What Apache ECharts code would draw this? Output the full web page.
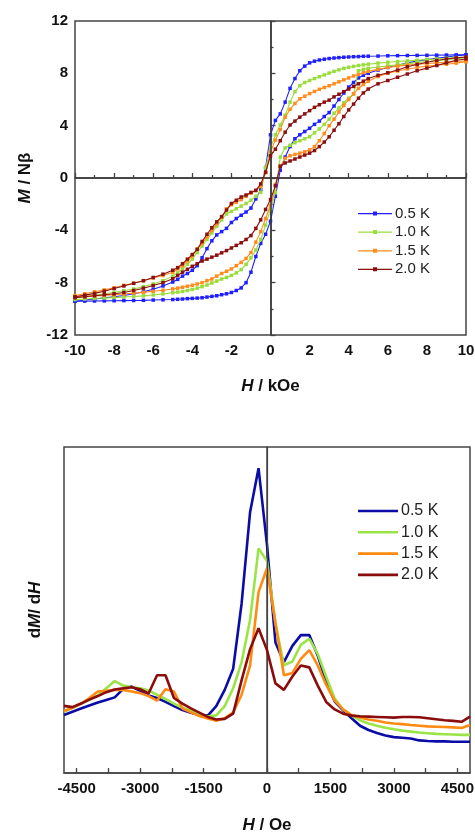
<!DOCTYPE html>
<html><head><meta charset="utf-8">
<script src="https://cdn.jsdelivr.net/npm/echarts@6/dist/echarts.min.js"></script>
<style>html,body{margin:0;padding:0;background:#fff;}#c1{position:absolute;left:0;top:0;width:475px;height:420px;}#c2{position:absolute;left:0;top:420px;width:475px;height:414px;}</style>
</head><body><div id="c1"></div><div id="c2"></div>
<script>
// ---- Top chart: M vs H (kOe), descending and ascending branches ----
const H = [10,9.5,9,8.5,8,7.5,7,6.5,6,5.5,5,4.75,4.5,4.25,4,3.75,3.5,3.25,3,2.75,2.5,2.25,2,1.75,1.5,1.25,1,0.75,0.5,0.25,0,-0.25,-0.5,-0.75,-1,-1.25,-1.5,-1.75,-2,-2.25,-2.5,-2.75,-3,-3.25,-3.5,-3.75,-4,-4.25,-4.5,-4.75,-5,-5.5,-6,-6.5,-7,-7.5,-8,-8.5,-9,-9.5,-10];
const blueDown = [9.42,9.41,9.40,9.39,9.38,9.37,9.36,9.35,9.34,9.32,9.31, 9.30,9.28,9.27,9.25,9.23,9.2,9.17,9.13,9.08,9.02,8.93,8.8,8.55,8.2,7.6,6.85,5.8,4.9,4.4,3.3, 0.8,-0.9,-1.6,-2.3,-2.6,-2.85,-3.1,-3.4,-3.85,-4.1,-4.35,-4.8,-5.4,-6.1,-6.7,-7.05,-7.3,-7.5,-7.75, -7.95,-8.25,-8.5,-8.7,-8.85,-8.98,-9.08,-9.16,-9.25,-9.33,-9.42];
const blueUp = [9.41,9.35,9.25,9.15,9.05,8.93,8.8,8.62,8.45,8.25,8.0, 7.85,7.65,7.3,6.95,6.5,6.0,5.5,5.0,4.7,4.35,4.1,3.8,3.55,3.3,3.0,2.4,1.6,0.6,-1.4,-3.3, -4.3,-5.0,-6.0,-7.2,-8.0,-8.4,-8.6,-8.75,-8.85,-8.92,-9.0,-9.05,-9.1,-9.15,-9.18,-9.2,-9.22,-9.25,-9.27, -9.29,-9.31,-9.33,-9.35,-9.36,-9.37,-9.38,-9.39,-9.4,-9.41,-9.42];
const greenDown = [9.22,9.2,9.15,9.1,9.05,9.0,8.95,8.9,8.85,8.78,8.7, 8.65,8.6,8.53,8.46,8.38,8.27,8.15,8.02,7.88,7.74,7.6,7.45,7.3,7.05,6.6,5.8,4.8,4.05,3.3,2.3, 0.8,-1.1,-1.4,-1.7,-1.95,-2.15,-2.35,-2.55,-2.75,-3.2,-3.7,-4.2,-4.7,-5.2,-5.7,-6.2,-6.6,-6.95,-7.25, -7.5,-7.85,-8.1,-8.3,-8.48,-8.62,-8.75,-8.85,-8.97,-9.07,-9.17];
const greenUp = [9.2,9.12,9.05,8.98,8.9,8.82,8.74,8.65,8.57,8.48,8.38, 8.3,8.2,6.4,6.1,5.75,5.35,4.95,4.5,4.1,3.75,3.45,3.15,3.0,2.85,2.7,2.5,2.3,1.6,-1.1,-2.4, -3.6,-4.7,-5.5,-6.1,-6.6,-7.0,-7.25,-7.45,-7.6,-7.72,-7.88,-8.02,-8.18,-8.3,-8.42,-8.52,-8.6,-8.67,-8.72, -8.77,-8.86,-8.94,-9.01,-9.06,-9.1,-9.14,-9.17,-9.21,-9.25,-9.29];
const orangeDown = [8.95,8.9,8.85,8.8,8.75,8.7,8.63,8.55,8.45,8.3,8.15, 8.05,7.92,7.8,7.65,7.5,7.35,7.2,7.05,6.92,6.78,6.62,6.45,6.25,6.05,5.7,5.25,4.65,3.7,2.9,2.0, 0.4,-0.65,-0.95,-1.15,-1.4,-1.65,-1.85,-2.05,-2.35,-3.0,-3.5,-4.0,-4.5,-5.0,-5.45,-5.95,-6.35,-6.7,-6.95, -7.2,-7.45,-7.65,-7.85,-8.05,-8.2,-8.4,-8.55,-8.7,-8.85,-8.98];
const orangeUp = [8.88,8.78,8.7,8.62,8.55,8.45,8.33,8.18,8.0,7.75,7.4, 7.15,6.85,6.45,6.0,5.55,5.05,4.5,4.0,3.4,2.85,2.4,2.15,2.0,1.9,1.8,1.7,1.5,0.9,-0.5,-2.1, -3.1,-4.1,-4.9,-5.7,-6.15,-6.45,-6.7,-6.95,-7.13,-7.3,-7.5,-7.72,-7.85,-8.0,-8.1,-8.2,-8.27,-8.35,-8.42, -8.48,-8.58,-8.66,-8.74,-8.8,-8.87,-8.92,-8.97,-9.01,-9.05,-9.08];
const redDown = [9.25,9.18,9.1,8.98,8.85,8.68,8.5,8.25,8.05,7.85,7.6, 7.4,7.2,7.0,6.8,6.6,6.4,6.2,5.95,5.8,5.6,5.4,5.15,4.9,4.65,4.35,4.05,3.5,2.85,2.2,1.7, 0.45,-0.45,-0.95,-1.1,-1.3,-1.45,-1.7,-1.95,-2.45,-2.95,-3.35,-3.8,-4.3,-4.85,-5.45,-5.85,-6.2,-6.55,-6.85, -7.05,-7.35,-7.6,-7.85,-8.05,-8.25,-8.45,-8.65,-8.82,-8.95,-9.08];
const redUp = [9.1,9.0,8.8,8.6,8.4,8.2,7.95,7.7,7.45,7.2,6.8, 6.5,6.1,5.65,5.2,4.7,4.15,3.65,3.15,2.75,2.4,2.1,1.9,1.75,1.6,1.45,1.3,1.15,0.9,-0.6,-1.65, -2.4,-3.2,-3.85,-4.4,-4.7,-4.95,-5.15,-5.35,-5.55,-5.72,-5.9,-6.05,-6.2,-6.35,-6.55,-6.75,-6.98,-7.2,-7.45, -7.7,-8.0,-8.22,-8.42,-8.6,-8.75,-8.85,-8.92,-9.0,-9.08,-9.15];

// ---- Bottom chart: dM/dH vs H (Oe), arbitrary units ----
const H2 = [-4800,-4600,-4400,-4200,-4000,-3800,-3600,-3400,-3200,-3000,-2800,-2600,-2400,-2200,-2000,-1800,-1600,-1400,-1200,-1000,-800,-600,-400,-200,0,200,400,600,800,1000,1200,1400,1600,1800,2000,2200,2400,2600,2800,3000,3200,3400,3600,3800,4000,4200,4400,4600,4800];
const blue2 = [1.78,1.88,1.98,2.07,2.16,2.24,2.32,2.58,2.65,2.52, 2.38,2.3,2.18,2.05,1.93,1.85,1.79,1.76,2.05,2.55,3.2,5.2,8.0,9.35, 7.0, 4.0,3.4,3.9,4.23,4.23,3.6,2.8,2.2,1.92,1.68,1.45,1.32,1.23,1.15,1.1,1.08,1.06,1.0,0.98,0.97,0.97,0.96,0.96,0.96];
const green2 = [1.88,2.0,2.12,2.25,2.38,2.6,2.82,2.68,2.63,2.6, 2.53,2.4,2.27,2.13,2.0,1.9,1.8,1.73,1.77,2.05,2.6,3.4,4.7,6.89, 6.5, 4.6,3.3,3.42,3.93,4.12,3.65,2.95,2.28,1.95,1.76,1.62,1.52,1.45,1.39,1.34,1.3,1.27,1.24,1.22,1.2,1.19,1.18,1.17,1.17];
const orange2 = [1.9,2.0,2.12,2.3,2.5,2.52,2.55,2.55,2.5,2.45, 2.36,2.22,2.57,2.5,1.98,1.86,1.75,1.67,1.6,1.68,1.86,2.4,3.3,5.55, 6.28, 4.6,3.0,3.07,3.5,3.77,3.3,2.7,2.22,1.95,1.78,1.7,1.64,1.6,1.55,1.52,1.5,1.47,1.45,1.43,1.42,1.41,1.4,1.38,1.47];
const red2 = [2.06,2.02,2.13,2.25,2.36,2.48,2.56,2.6,2.63,2.57, 2.44,3.0,3.0,2.3,2.13,1.98,1.85,1.72,1.64,1.66,1.82,2.85,3.8,4.44, 3.77, 2.75,2.55,2.96,3.3,3.24,2.68,2.18,1.95,1.82,1.76,1.74,1.73,1.72,1.71,1.7,1.72,1.72,1.71,1.68,1.65,1.62,1.6,1.57,1.73];

const names = ['0.5 K','1.0 K','1.5 K','2.0 K'];
const botLabels = [-4500,-3000,-1500,0,1500,3000,4500];
const botTicks = [-4500,-3750,-3000,-2250,-1500,-750,0,750,1500,2250,3000,3750,4500];

const colorsTop = ['#1f1fff','#99dd3c','#ff8c1e','#8b1010'];
const colorsBot = ['#0b0ba6','#9be446','#ff8a12','#8a0c0c'];
const FONT = 'Liberation Sans, Arial, Helvetica, sans-serif';
const richName = {
  i: {fontStyle:'italic', fontWeight:'bold', fontSize:17, fontFamily:FONT, color:'#111'},
  b: {fontWeight:'bold', fontSize:17, fontFamily:FONT, color:'#111'}
};
function pair(xs, ys){ return xs.map((x,i)=>[x, ys[i]]); }

// ---------- Chart 1 ----------
const c1 = echarts.init(document.getElementById('c1'), null, {renderer:'canvas'});
const topSets = [[blueDown,blueUp],[greenDown,greenUp],[orangeDown,orangeUp],[redDown,redUp]];
const s1 = [];
topSets.forEach((pr, k) => {
  pr.forEach((arr, j) => {
    s1.push({
      type:'line', name:names[k], data:pair(H, arr),
      symbol:'rect', symbolSize:3.5, showSymbol:true,
      lineStyle:{color:colorsTop[k], width:1.1},
      itemStyle:{color:colorsTop[k]},
      z: 2 + k, silent:true
    });
  });
});
s1[0].markLine = {
  silent:true, symbol:['none','none'], animation:false,
  label:{show:false},
  lineStyle:{color:'#3a3a3a', width:1.5, type:'solid'},
  data:[{xAxis:0},{yAxis:0}]
};
const topLegendIcon = 'path://M0,1.5h34v1.2h-34z M15,0h4v4h-4z';
c1.setOption({
  animation:false,
  backgroundColor:'#fff',
  grid:{left:75, right:9, top:21, height:314, outerBoundsMode:'none', containLabel:false, show:true, borderColor:'#444', borderWidth:1.5, backgroundColor:'transparent'},
  xAxis:{
    type:'value', min:-10, max:10, interval:2,
    axisLine:{show:true, lineStyle:{color:'#444', width:1.5}},
    axisTick:{show:true, inside:true, length:5, lineStyle:{color:'#444', width:1.3}},
    minorTick:{show:true, splitNumber:2, length:3, lineStyle:{color:'#444', width:1.3}},
    splitLine:{show:false},
    axisLabel:{color:'#111', fontSize:15, fontWeight:'bold', fontFamily:FONT, margin:8},
    name:'{i|H}{b| / kOe}', nameLocation:'middle', nameGap:43,
    nameTextStyle:{rich:richName}
  },
  yAxis:{
    type:'value', min:-12, max:12, interval:4,
    axisLine:{show:true, lineStyle:{color:'#444', width:1.5}},
    axisTick:{show:true, inside:true, length:5, lineStyle:{color:'#444', width:1.3}},
    minorTick:{show:true, splitNumber:2, length:3, lineStyle:{color:'#444', width:1.3}},
    splitLine:{show:false},
    axisLabel:{color:'#111', fontSize:15, fontWeight:'bold', fontFamily:FONT, margin:7},
    name:'{i|M}{b| / Nβ}', nameLocation:'middle', nameGap:41, nameRotate:90,
    nameTextStyle:{rich:richName}
  },
  legend:{
    data:names.map((n,k)=>({name:n, icon:topLegendIcon, itemStyle:{color:colorsTop[k]}})),
    orient:'vertical', left:358, top:206, padding:0,
    itemWidth:34, itemHeight:4, itemGap:3.6,
    textStyle:{fontSize:15, fontFamily:FONT, color:'#222', padding:[0,0,0,-2]},
    selectedMode:false
  },
  series:s1
});

// ---------- Chart 2 ----------
const c2 = echarts.init(document.getElementById('c2'), null, {renderer:'canvas'});
const botSets = [blue2, green2, orange2, red2];
const s2 = botSets.map((arr,k)=>({
  type:'line', name:names[k], data:pair(H2, arr),
  symbol:'none', showSymbol:false,
  lineStyle:{color:colorsBot[k], width:2.6},
  itemStyle:{color:colorsBot[k]},
  z: 2 + k, silent:true
}));
s2[0].markLine = {
  silent:true, symbol:['none','none'], animation:false,
  label:{show:false},
  lineStyle:{color:'#444', width:1.2, type:'solid'},
  data:[{xAxis:0}]
};
c2.setOption({
  animation:false,
  backgroundColor:'#fff',
  grid:{left:64, right:5, top:27, height:326, outerBoundsMode:'none', containLabel:false, show:true, borderColor:'#444', borderWidth:1.5, backgroundColor:'transparent'},
  xAxis:{
    type:'value', min:-4800, max:4800,
    axisLine:{show:true, lineStyle:{color:'#444', width:1.5}},
    axisTick:{show:true, inside:true, length:5, customValues:botTicks, lineStyle:{color:'#444', width:1.3}},
    splitLine:{show:false},
    axisLabel:{color:'#111', fontSize:15, fontWeight:'bold', fontFamily:FONT, margin:8, customValues:botLabels, formatter:(v)=>String(v)},
    name:'{i|H}{b| / Oe}', nameLocation:'middle', nameGap:44,
    nameTextStyle:{rich:richName}
  },
  yAxis:{
    type:'value', min:0, max:10,
    axisLine:{show:true, lineStyle:{color:'#444', width:1.5}},
    axisTick:{show:false}, axisLabel:{show:false}, splitLine:{show:false},
    name:'{b|d}{i|M}{b|/ d}{i|H}', nameLocation:'middle', nameGap:20, nameRotate:90,
    nameTextStyle:{rich:richName}
  },
  legend:{
    data:names.map((n,k)=>({name:n, icon:'rect', itemStyle:{color:colorsBot[k]}})),
    orient:'vertical', left:358, top:83, padding:0,
    itemWidth:40, itemHeight:2.6, itemGap:5.3,
    textStyle:{fontSize:16, fontFamily:FONT, color:'#222', padding:[0,0,0,-2]},
    selectedMode:false
  },
  series:s2
});
</script></body></html>
